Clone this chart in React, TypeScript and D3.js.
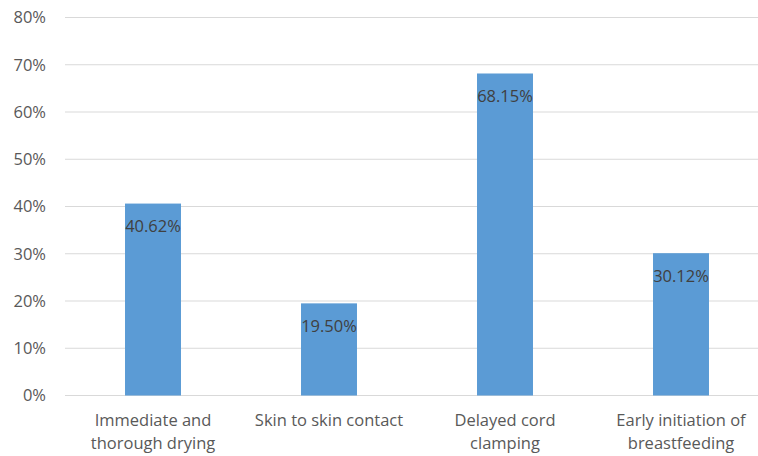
import React from "react";
import * as d3 from "d3";

// Datos del gráfico
const categories = [
  ["Immediate and", "thorough drying"],
  ["Skin to skin contact"],
  ["Delayed cord", "clamping"],
  ["Early initiation of", "breastfeeding"],
];
const values = [40.62, 19.5, 68.15, 30.12];
const yTicks = [0, 10, 20, 30, 40, 50, 60, 70, 80];

const width = 758;
const height = 456;
const font = "'Open Sans', sans-serif";

const App: React.FC = () => {
  const x = d3
    .scaleBand<number>()
    .domain(values.map((_, i) => i))
    .range([65, 769])
    .paddingInner(0.682)
    .paddingOuter(0.341);

  const y = d3.scaleLinear().domain([0, 80]).range([395.5, 17.5]);

  return (
    <svg
      width={width}
      height={height}
      style={{ position: "absolute", left: 0, top: 0, background: "#fff" }}
    >
      {/* Líneas de la cuadrícula */}
      {yTicks.map((t) => (
        <g key={t}>
          <line
            x1={65}
            x2={width}
            y1={y(t)}
            y2={y(t)}
            stroke="#d9d9d9"
            strokeWidth={1}
          />
          <text
            x={46}
            y={y(t)}
            dy="0.35em"
            textAnchor="end"
            fontFamily={font}
            fontSize={16.5}
            fill="#595959"
          >
            {t}%
          </text>
        </g>
      ))}

      {/* Barras */}
      {values.map((v, i) => (
        <g key={i}>
          <rect
            x={x(i)}
            y={y(v)}
            width={x.bandwidth()}
            height={y(0) - y(v)}
            fill="#5b9bd5"
          />
          <text
            x={(x(i) ?? 0) + x.bandwidth() / 2}
            y={y(v) + 23}
            dy="0.35em"
            textAnchor="middle"
            fontFamily={font}
            fontSize={16.5}
            fill="#404040"
          >
            {v.toFixed(2)}%
          </text>
        </g>
      ))}

      {/* Etiquetas del eje X */}
      {categories.map((lines, i) =>
        lines.map((l, j) => (
          <text
            key={`${i}-${j}`}
            x={(x(i) ?? 0) + x.bandwidth() / 2}
            y={420 + j * 23}
            dy="0.35em"
            textAnchor="middle"
            fontFamily={font}
            fontSize={16.5}
            fill="#595959"
          >
            {l}
          </text>
        ))
      )}
    </svg>
  );
};

export default App;
